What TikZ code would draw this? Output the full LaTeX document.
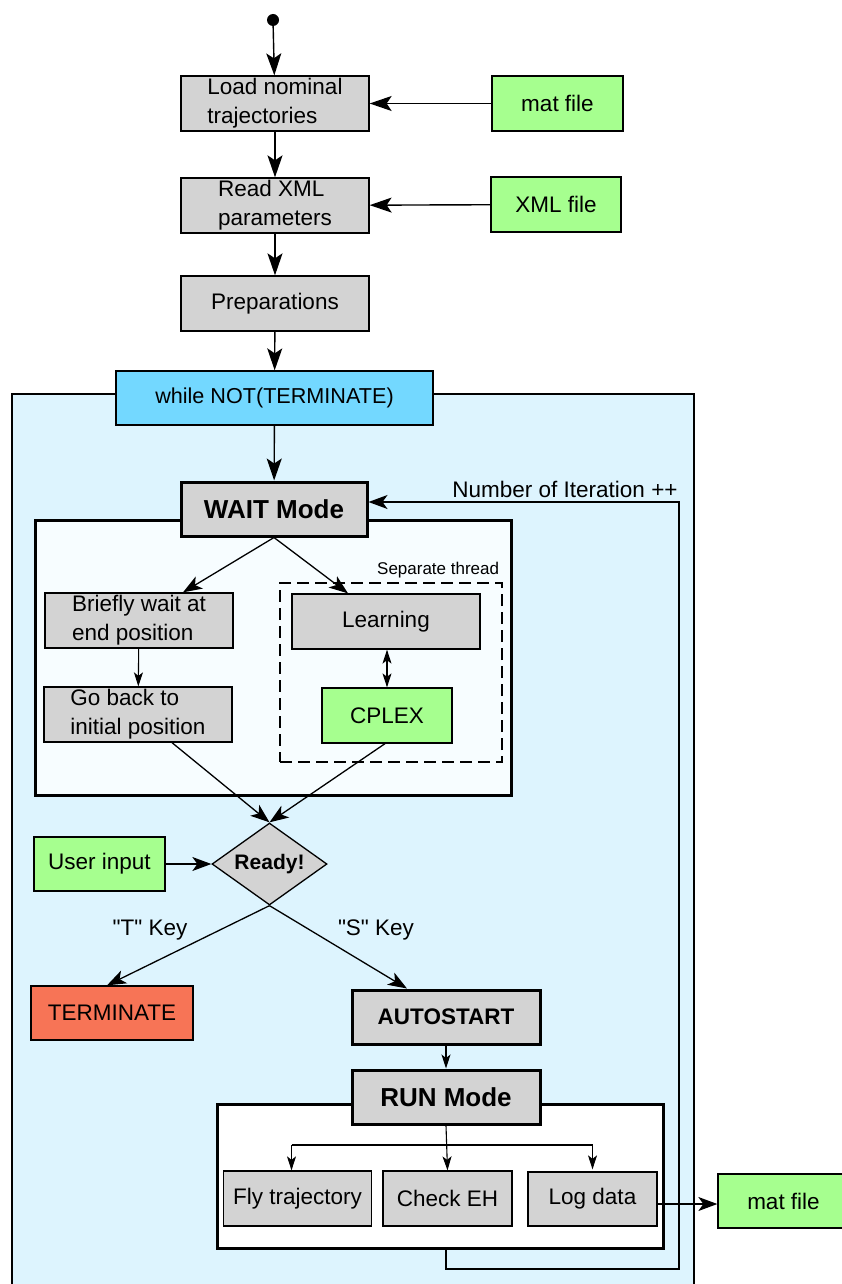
\documentclass[tikz,border=0pt]{standalone}
\usepackage{fontspec}
\setmainfont{Liberation Sans}
\usetikzlibrary{shapes.geometric,arrows.meta}

\definecolor{boxgray}{RGB}{211,211,211}
\definecolor{filegreen}{RGB}{166,255,143}
\definecolor{loopblue}{RGB}{221,244,254}
\definecolor{whileblue}{RGB}{115,216,255}
\definecolor{waitwhite}{RGB}{247,253,255}
\definecolor{termred}{RGB}{247,116,86}

\begin{document}
\begin{tikzpicture}[x=1pt,y=-1pt]

\def\bw{188pt}
\def\bh{55pt}
\def\fw{131pt}

\tikzset{box/.style = {draw, fill=boxgray, line width=1.3pt, inner sep=0pt, align=left, minimum width=\bw, minimum height=\bh, font=\fontsize{22.5}{29}\selectfont}}
\tikzset{filebox/.style = {box, fill=filegreen, minimum width=\fw}}
\tikzset{modebox/.style = {box, line width=3pt, minimum height=54pt, font=\bfseries\fontsize{26}{30}\selectfont}}
\tikzset{holder/.style = {draw, line width=3pt, inner sep=0pt}}
\tikzset{lbl/.style = {inner sep=0pt, font=\fontsize{22.5}{27}\selectfont}}
\tikzset{arr/.style = {-{Stealth[length=22pt,width=15pt,inset=5pt]}, line width=1.4pt}}
\tikzset{midarr/.style = {-{Stealth[length=19pt,width=14pt,inset=5pt]}, line width=1.3pt}}
\tikzset{smallarr/.style = {-{Stealth[length=14pt,width=9pt,inset=3.5pt]}, line width=1.1pt}}

\useasboundingbox (0,0) rectangle (842,1284);
\clip (0,0) rectangle (842,1284);

% loop and frames
\path[fill=loopblue, draw, line width=1.5pt] (12,394) rectangle (694,1310);
\node[holder, fill=waitwhite, minimum width=476pt, minimum height=275pt] (waitbox) at (273,657.5) {};
\node[draw, dashed, dash pattern=on 12pt off 6pt, line width=2.6pt, inner sep=0pt, minimum width=222pt, minimum height=179pt] (thread) at (391,672.5) {};
\node[holder, fill=white, minimum width=446pt, minimum height=144pt] (runbox) at (440,1176) {};

% preparation
\node[circle, fill=black, minimum size=12pt, inner sep=0pt] (start) at (273,20) {};
\node[box] (load) at (275,103.5) {Load nominal\\trajectories};
\node[filebox] (mata) at (557.5,103.5) {mat file};
\node[box] (readxml) at (275,205.5) {Read XML\\parameters};
\node[filebox, minimum width=130pt] (xmlf) at (556,204.5) {XML file};
\node[box] (prep) at (275,303.5) {Preparations};
\node[box, fill=whileblue, minimum width=317pt, minimum height=54pt, font=\fontsize{21.6}{26}\selectfont] (while) at (274.5,398) {while NOT(TERMINATE)};

% wait
\node[modebox, minimum width=186pt] (waitm) at (274,509) {WAIT Mode};
\node[box] (brief) at (139,620.5) {Briefly wait at\\end position};
\node[box] (goback) at (138,714.5) {Go back to\\initial position};
\node[box] (learn) at (386,621.5) {Learning};
\node[filebox, minimum width=130pt] (cplex) at (387,715.5) {CPLEX};
\node[anchor=south east, inner sep=0pt, font=\fontsize{17}{20}\selectfont] (sepl) at ([xshift=-4pt,yshift=3pt]thread.north east) {Separate thread};

% decision
\node[diamond, draw, fill=boxgray, line width=1.3pt, inner sep=0pt, aspect=1.4, minimum width=115pt, minimum height=82pt, font=\bfseries\fontsize{21}{25}\selectfont] (ready) at (269.5,864) {Ready!};
\node[filebox, minimum height=54pt] (user) at (99.5,864) {User input};
\node[box, fill=termred, minimum width=162pt, minimum height=54pt] (term) at (112,1013) {TERMINATE};
\node[modebox, font=\bfseries\fontsize{22.5}{27}\selectfont] (auto) at (446,1017) {AUTOSTART};
\node[lbl] (tkey) at (150,930) {\textquotedbl T\textquotedbl{} Key};
\node[lbl] (skey) at (376,930) {\textquotedbl S\textquotedbl{} Key};

% run
\node[modebox] (runm) at (446,1097) {RUN Mode};
\node[box, minimum width=148pt] (fly) at (297.5,1198.5) {Fly trajectory};
\node[box, minimum width=129pt] (check) at (447.5,1198.5) {Check EH};
\node[box, minimum width=129pt, minimum height=54pt] (logd) at (592.5,1199) {Log data};
\node[filebox, minimum height=54pt] (matb) at (783.5,1201) {mat file};
\node[lbl] (iter) at (565,489) {Number of Iteration ++};

\coordinate (split) at (447,1145);
\coordinate (fbk) at (679,1269);

% C1
\draw[arr] (start) -- (load);
\draw[arr] (mata) -- (load);
\draw[arr] (load) -- (readxml);
\draw[arr] (xmlf) -- (readxml);
\draw[arr] (readxml) -- (prep);
\draw[arr] (prep) -- (while);
\draw[arr] (while) -- (waitm);

% C2
\draw[midarr] (waitm.south) -- ([xshift=44pt]brief.north);
\draw[midarr] (waitm.south) -- ([xshift=-38pt]learn.north);
\draw[smallarr] (brief) -- (goback);
\draw[smallarr, {Stealth[length=14pt,width=9pt,inset=3.5pt]}-{Stealth[length=14pt,width=9pt,inset=3.5pt]}] (learn.south -| cplex) -- (cplex);
\draw[midarr] ([xshift=34pt]goback.south) -- (ready.north);
\draw[midarr] ([xshift=-2pt]cplex.south) -- (ready.north);

% C3
\draw[midarr] (user) -- (ready);
\draw[midarr] (ready.south) -- ([xshift=-5pt]term.north);
\draw[midarr] (ready.south) -- ([xshift=-39pt]auto.north);
\draw[smallarr] (auto) -- (runm);

% C4
\draw[smallarr] (runm.south) -- (check.north |- fly.north);
\draw[line width=1.1pt] ([xshift=-6pt]fly.north |- split) -- (logd.north |- split);
\draw[smallarr] ([xshift=-6pt]fly.north |- split) -- ([xshift=-6pt]fly.north);
\draw[smallarr] (logd.north |- split) -- ([yshift=2pt]logd.north);
\draw[midarr] ([yshift=-5pt]logd.east) -- ([yshift=-5pt]logd.east -| matb.west);

% C5
\draw[midarr] (runm |- runbox.south) |- (fbk) |- ([yshift=7pt]waitm.east);

\end{tikzpicture}
\end{document}
